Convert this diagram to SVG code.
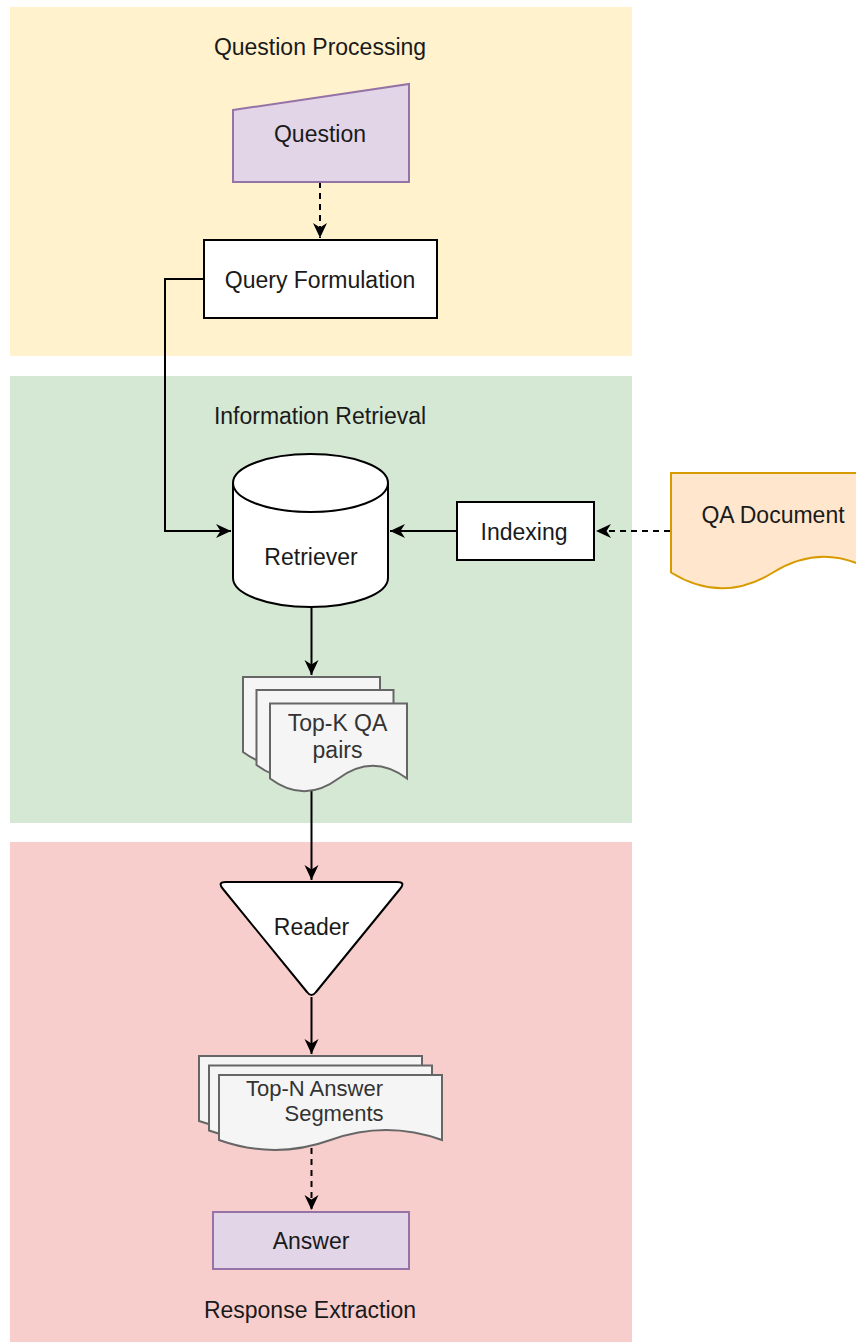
<svg xmlns="http://www.w3.org/2000/svg" width="856" height="1342" viewBox="0 0 856 1342">
<defs>
<marker id="arr" markerUnits="userSpaceOnUse" markerWidth="16" markerHeight="16" viewBox="0 0 16 16" refX="15" refY="8" orient="auto">
<path d="M0,1 L15,8 L0,15 L4.5,8 Z" fill="#000"/>
</marker>
<style>
text{font-family:"Liberation Sans",Arial,sans-serif;font-size:23px;fill:#1a1a1a;text-anchor:middle}
.grey{fill:#333}
.box{fill:#fff;stroke:#000;stroke-width:2}
.purple{fill:#e1d5e7;stroke:#9673a6;stroke-width:2}
.doc{fill:#f5f5f5;stroke:#666;stroke-width:2}
.line{fill:none;stroke:#000;stroke-width:2}
.dash{stroke-dasharray:6 5}
</style>
</defs>
<rect width="856" height="1342" fill="#fff"/>
<g id="sections">
<rect x="10" y="7" width="622" height="349" fill="#fff2cc"/>
<rect x="10" y="376" width="622" height="447" fill="#d5e8d4"/>
<rect x="10" y="842" width="622" height="500" fill="#f8cecc"/>
<text x="320" y="55">Question Processing</text>
<text x="320" y="424">Information Retrieval</text>
<text x="310" y="1318">Response Extraction</text>
</g>
<g id="connectors">
<path class="line dash" d="M320,182 V238" marker-end="url(#arr)"/>
<path class="line" d="M204,279 H165 V531 H231" marker-end="url(#arr)"/>
<path class="line" d="M457,531 H390" marker-end="url(#arr)"/>
<path class="line dash" d="M670,531 H596" marker-end="url(#arr)"/>
<path class="line" d="M311.5,607 V675" marker-end="url(#arr)"/>
<path class="line" d="M311.5,790 V880" marker-end="url(#arr)"/>
<path class="line" d="M311.5,997 V1054" marker-end="url(#arr)"/>
<path class="line dash" d="M311.5,1148 V1210" marker-end="url(#arr)"/>
</g>
<g id="question">
<path class="purple" d="M233,110 L409,84 V182 H233 Z"/>
<text x="320" y="142">Question</text>
</g>
<g id="query-formulation">
<rect class="box" x="204" y="240" width="233" height="78"/>
<text x="320" y="288">Query Formulation</text>
</g>
<g id="retriever">
<path class="box" d="M233,483 A77.5,29 0 0 1 388,483 V578 A77.5,29 0 0 1 233,578 Z"/>
<path class="line" d="M233,483 A77.5,29 0 0 0 388,483"/>
<text x="311" y="565">Retriever</text>
</g>
<g id="indexing">
<rect class="box" x="457" y="502" width="137" height="58"/>
<text x="524" y="540">Indexing</text>
</g>
<g id="qa-document">
<path d="M671,473 H875 V572.5 Q824,541 773,572.5 Q722,604 671,572.5 Z" fill="#ffe6cc" stroke="#d79b00" stroke-width="2"/>
<text x="773" y="523">QA Document</text>
</g>
<g id="top-k">
<path class="doc" d="M243,677 H380 V752 Q345.75,726.5 311.5,752 Q277.25,777.5 243,752 Z"/>
<path class="doc" d="M256.5,690 H393.5 V765 Q359.25,739.5 325,765 Q290.75,790.5 256.5,765 Z"/>
<path class="doc" d="M270,703.5 H407 V778.5 Q372.75,753 338.5,778.5 Q304.25,804 270,778.5 Z"/>
<text class="grey" x="337.5" y="731">Top-K QA</text>
<text class="grey" x="337.5" y="758">pairs</text>
</g>
<g id="reader">
<path class="box" stroke-linejoin="round" d="M226,882 H397 Q406,882 400,889 L316,992 Q311.5,998 307,992 L223,889 Q217,882 226,882 Z"/>
<text x="311.5" y="935">Reader</text>
</g>
<g id="top-n">
<path class="doc" d="M199,1056 H422 V1121 Q366,1101 310.5,1121 Q255,1141 199,1121 Z"/>
<path class="doc" d="M209,1065.5 H432 V1130.5 Q376,1110.5 320.5,1130.5 Q265,1150.5 209,1130.5 Z"/>
<path class="doc" d="M219,1075 H442 V1140 Q386,1120 330.5,1140 Q275,1160 219,1140 Z"/>
<text class="grey" x="314.5" y="1096" style="font-size:22px">Top-N Answer</text>
<text class="grey" x="334" y="1121" style="font-size:22px">Segments</text>
</g>
<g id="answer">
<rect class="purple" x="213" y="1212" width="196" height="57"/>
<text x="311" y="1249">Answer</text>
</g>
</svg>
